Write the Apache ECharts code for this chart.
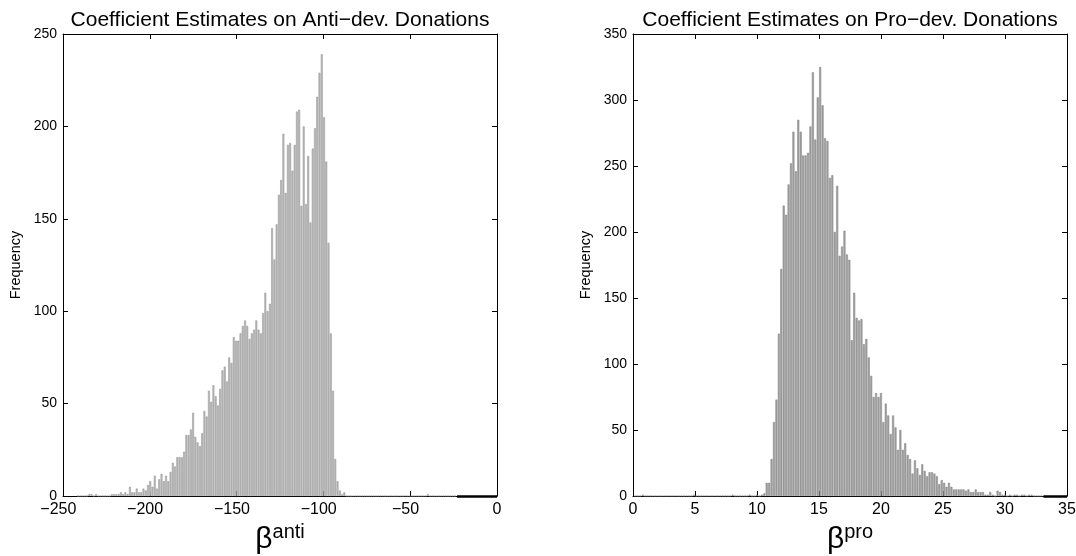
<!DOCTYPE html>
<html>
<head>
<meta charset="utf-8">
<script src="https://cdn.jsdelivr.net/npm/echarts@6/dist/echarts.min.js"></script>
<style>
  html, body { margin: 0; padding: 0; background: #ffffff; }
  #chart { width: 1076px; height: 556px; }
</style>
</head>
<body>
<div id="chart"></div>
<script>
// Histogram of bootstrap coefficient estimates, anti-development donations
const antiBinStart = -242;      // left edge of the first bin
const antiBinWidth = 1.3;
const antiCounts = [
  0, 0, 0, 0, 0, 1, 1, 0, 1, 0, 0, 0, 0, 0, 0, 1, 1, 1,
  1, 2, 1, 2, 1, 5, 2, 2, 4, 2, 2, 4, 3, 6, 8, 5, 11, 4, 9, 12, 8, 11, 8, 13,
  18, 16, 21, 21, 21, 24, 33, 33, 36, 45, 32, 29, 27, 34, 46, 43, 57, 51, 60, 54,
  49, 58, 68, 70, 62, 75, 72, 86, 84, 84, 88, 92, 95, 92, 85, 88, 90, 95, 90, 88,
  99, 110, 100, 104, 145, 128, 147, 163, 171, 196, 164, 190, 191, 176, 190, 208, 209, 157,
  200, 158, 184, 148, 188, 199, 216, 229, 239, 205, 181, 137, 88, 57, 20, 8, 3, 1, 2,
  0, 0, 0, 0, 0, 0, 0, 0, 0, 0, 0, 0, 0, 0, 0, 0, 0, 0, 0, 0, 0, 0, 0, 0, 0, 0, 0, 0, 0, 0,
  0, 0, 0, 0, 0, 0, 1, 0, 0, 0, 0, 0, 0, 0, 0, 0, 0, 0, 0
];

// Histogram of bootstrap coefficient estimates, pro-development donations
const proBinStart = 0.1;
const proBinWidth = 0.196;
const proCounts = [
  0, 0, 0, 1, 0, 0, 0, 0, 0, 0, 0, 0, 0, 0, 0, 0, 0, 0, 0, 0, 0, 0, 0, 0, 1, 0,
  0, 0, 0, 0, 0, 0, 0, 0, 0, 0, 0, 0, 0, 0, 1, 0, 0, 0, 0, 0, 0, 1, 0, 0, 1, 0,
  1, 2, 10, 10, 28, 56, 73, 123, 172, 220, 213, 236, 252, 276, 246, 285, 276, 258,
  258, 260, 280, 321, 270, 302, 325, 296, 271, 269, 241, 243, 200, 235, 182, 189,
  201, 183, 179, 118, 154, 135, 133, 134, 115, 119, 105, 91, 75, 78, 75, 78, 56, 70,
  61, 47, 61, 52, 35, 50, 35, 40, 31, 28, 17, 27, 21, 16, 24, 19, 15, 18, 18, 17,
  15, 9, 12, 10, 7, 10, 7, 5, 5, 5, 5, 5, 4, 5, 3, 3, 5, 3, 3, 3, 1, 1, 3, 1, 0, 4,
  3, 1, 1, 0, 1, 0, 1, 1, 0, 1, 1, 0, 1, 1, 0, 0, 0, 0
];

// Axis ranges and tick labels
const antiTicks = [-250, -200, -150, -100, -50, 0];
const proTicks = [0, 5, 10, 15, 20, 25, 30, 35];
const antiFreqMax = 250;
const proFreqMax = 350;
const freqStep = 50;

const titles = [
  'Coefficient Estimates on Anti\u2212dev. Donations',
  'Coefficient Estimates on Pro\u2212dev. Donations'
];

function binPairs(start, width, counts) {
  return counts.map((c, i) => [start + width * (i + 0.5), c]);
}

const FONT = 'Liberation Sans, Arial, Helvetica, sans-serif';
const TICK_FS = 16;

// Negative tick labels keep their digits centred on the tick; the minus sign hangs to the left.
function tickText(v) {
  if (v < 0) return '{m|\u2212}' + Math.abs(v) + '{p| }';
  return String(v);
}

function xAxes(gridIndex, ticks, sup) {
  const lo = ticks[0], hi = ticks[ticks.length - 1];
  const step = ticks[1] - ticks[0];
  const base = {
    gridIndex, type: 'value', min: lo, max: hi, interval: step,
    axisLine: { show: true, onZero: false, lineStyle: { color: '#000', width: 1 } },
    axisTick: { show: true, inside: true, length: 5, lineStyle: { color: '#000' } },
    splitLine: { show: false }
  };
  return [
    Object.assign({}, base, {
      position: 'bottom',
      axisLabel: {
        show: true, margin: 6, fontSize: TICK_FS, color: '#000', fontFamily: FONT,
        formatter: tickText,
        rich: {
          m: { fontSize: TICK_FS, fontFamily: FONT, color: '#000' },
          p: { fontSize: TICK_FS, fontFamily: FONT, width: TICK_FS * 0.584 }
        }
      },
      name: '{b|\u03b2}{s|' + sup + '}',
      nameLocation: 'middle',
      nameGap: 1.5,
      nameTextStyle: {
        color: '#000',
        rich: {
          b: { fontSize: 30, fontFamily: FONT, verticalAlign: 'bottom', color: '#000' },
          s: { fontSize: 20, fontFamily: FONT, verticalAlign: 'bottom', padding: [0, 0, 11.5, 0], color: '#000' }
        }
      }
    }),
    Object.assign({}, base, { position: 'top', axisLabel: { show: false } })
  ];
}

function yAxes(gridIndex, max) {
  const base = {
    gridIndex, type: 'value', min: 0, max: max, interval: freqStep,
    axisLine: { show: true, onZero: false, lineStyle: { color: '#000', width: 1 } },
    axisTick: { show: true, inside: true, length: 5, lineStyle: { color: '#000' } },
    splitLine: { show: false }
  };
  return [
    Object.assign({}, base, {
      position: 'left',
      axisLabel: { show: true, margin: 6, fontSize: 14, color: '#000', fontFamily: FONT },
      name: 'Frequency',
      nameLocation: 'middle',
      nameGap: 40,
      nameTextStyle: { fontSize: 14.5, color: '#000', fontFamily: FONT }
    }),
    Object.assign({}, base, { position: 'right', axisLabel: { show: false } })
  ];
}

const chart = echarts.init(document.getElementById('chart'), null, { renderer: 'canvas' });

chart.setOption({
  backgroundColor: '#ffffff',
  animation: false,
  graphic: [
    { type: 'text', x: 280, y: 10, style: { text: titles[0], textAlign: 'center', textVerticalAlign: 'top', font: '21px ' + FONT, fill: '#000' } },
    { type: 'text', x: 850, y: 10, style: { text: titles[1], textAlign: 'center', textVerticalAlign: 'top', font: '21px ' + FONT, fill: '#000' } }
  ],
  grid: [
    { left: 63, top: 34, width: 434, height: 462, containLabel: false, outerBoundsMode: 'none' },
    { left: 633, top: 34, width: 434, height: 462, containLabel: false, outerBoundsMode: 'none' }
  ],
  xAxis: [].concat(xAxes(0, antiTicks, 'anti'), xAxes(1, proTicks, 'pro')),
  yAxis: [].concat(yAxes(0, antiFreqMax), yAxes(1, proFreqMax)),
  series: [
    {
      type: 'bar', xAxisIndex: 0, yAxisIndex: 0,
      data: binPairs(antiBinStart, antiBinWidth, antiCounts),
      barWidth: '82%',
      itemStyle: { color: '#bcbcbc', borderColor: '#8e8e8e', borderWidth: 0.5 },
      markLine: {
        silent: true, symbol: 'none', label: { show: false },
        lineStyle: { color: '#000', width: 2.5, type: 'solid' },
        data: [[{ coord: [-23, 0] }, { coord: [0, 0] }]]
      }
    },
    {
      type: 'bar', xAxisIndex: 2, yAxisIndex: 2,
      data: binPairs(proBinStart, proBinWidth, proCounts),
      barWidth: '82%',
      itemStyle: { color: '#a2a2a2', borderColor: '#7e7e7e', borderWidth: 0.5 },
      markLine: {
        silent: true, symbol: 'none', label: { show: false },
        lineStyle: { color: '#000', width: 2.5, type: 'solid' },
        data: [[{ coord: [33.1, 0] }, { coord: [35, 0] }]]
      }
    }
  ]
});
</script>
</body>
</html>
